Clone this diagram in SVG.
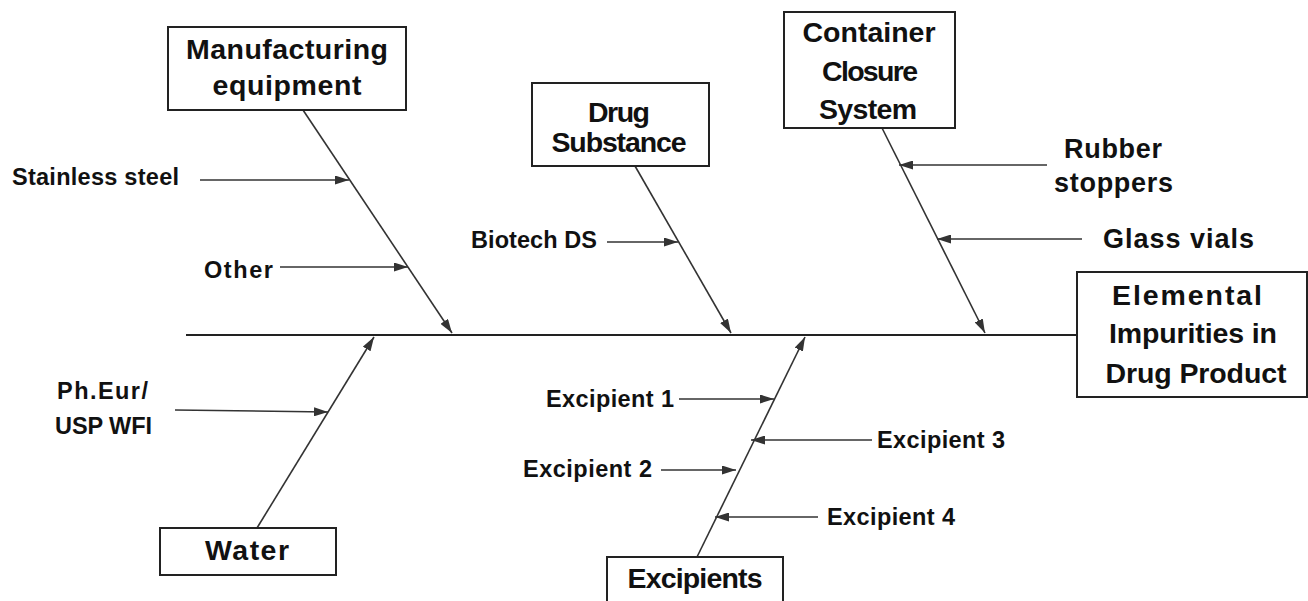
<svg xmlns="http://www.w3.org/2000/svg" width="1308" height="601" viewBox="0 0 1308 601">
<defs>
<marker id="ah" viewBox="0 0 14 9" refX="14" refY="4.5" markerWidth="14" markerHeight="9" markerUnits="userSpaceOnUse" orient="auto">
<path d="M0,0 L14,4.5 L0,9 z" fill="#333"/>
</marker>
<style>
.box{fill:#fff;stroke:#222;stroke-width:2}
.bl{font-family:"Liberation Sans",Arial,sans-serif;font-weight:bold;font-size:28.5px;fill:#111;text-anchor:middle}
.sl{font-family:"Liberation Sans",Arial,sans-serif;font-weight:bold;font-size:23.5px;fill:#111}
.al{font-family:"Liberation Sans",Arial,sans-serif;font-weight:bold;font-size:27px;fill:#111}
.br{stroke:#333;stroke-width:1.6;fill:none;marker-end:url(#ah)}
.sub{stroke:#333;stroke-width:1.5;fill:none;marker-end:url(#ah)}
.spine{stroke:#222;stroke-width:2.2;fill:none}
</style>
</defs>
<rect width="1308" height="601" fill="#fff"/>
<g id="connectors">
<line class="spine" x1="186" y1="335" x2="1077" y2="335"/>
<line class="br" x1="303" y1="110" x2="452" y2="333"/>
<line class="br" x1="635" y1="166" x2="731" y2="333"/>
<line class="br" x1="882" y1="128" x2="985" y2="333"/>
<line class="br" x1="257" y1="528" x2="374" y2="337"/>
<line class="br" x1="697" y1="557" x2="805" y2="337"/>
<line class="sub" x1="200" y1="180" x2="349" y2="180"/>
<line class="sub" x1="280" y1="267" x2="408" y2="267"/>
<line class="sub" x1="607" y1="242" x2="678" y2="242"/>
<line class="sub" x1="1047" y1="165" x2="899" y2="165"/>
<line class="sub" x1="1082" y1="239" x2="937" y2="239"/>
<line class="sub" x1="175" y1="410" x2="328" y2="412"/>
<line class="sub" x1="679" y1="399" x2="774" y2="399"/>
<line class="sub" x1="872" y1="440" x2="751" y2="440"/>
<line class="sub" x1="661" y1="470" x2="736" y2="470"/>
<line class="sub" x1="818" y1="517" x2="715" y2="517"/>
</g>
<g id="manufacturing">
<rect class="box" x="168" y="27" width="238" height="83"/>
<text class="bl" x="287" y="59" textLength="202">Manufacturing</text>
<text class="bl" x="287" y="95" textLength="149">equipment</text>
</g>
<g id="drug-substance">
<rect class="box" x="532" y="83" width="177" height="83"/>
<text class="bl" x="619" y="122" textLength="62">Drug</text>
<text class="bl" x="619" y="152" textLength="135">Substance</text>
</g>
<g id="container">
<rect class="box" x="784" y="12" width="171" height="116"/>
<text class="bl" x="869" y="42" textLength="133">Container</text>
<text class="bl" x="870" y="81" textLength="96">Closure</text>
<text class="bl" x="868" y="119" textLength="98">System</text>
</g>
<g id="effect">
<rect class="box" x="1077" y="272" width="230" height="125"/>
<text class="bl" x="1187" y="305" textLength="150">Elemental</text>
<text class="bl" x="1193" y="343" textLength="168">Impurities in</text>
<text class="bl" x="1196" y="383" textLength="181">Drug Product</text>
</g>
<g id="water">
<rect class="box" x="160" y="528" width="176" height="47"/>
<text class="bl" x="247" y="560" textLength="84">Water</text>
</g>
<g id="excipients">
<rect class="box" x="607" y="557" width="176" height="50"/>
<text class="bl" x="695" y="588" textLength="135">Excipients</text>
</g>
<g id="causes">
<text class="sl" x="12" y="185" textLength="167">Stainless steel</text>
<text class="sl" x="204" y="278" textLength="69">Other</text>
<text class="sl" x="471" y="248" textLength="126">Biotech DS</text>
<text class="al" x="1064" y="158" textLength="98">Rubber</text>
<text class="al" x="1054" y="192" textLength="119">stoppers</text>
<text class="al" x="1103" y="248" textLength="151">Glass vials</text>
<text class="sl" x="57" y="399" textLength="91">Ph.Eur/</text>
<text class="sl" x="55" y="434" textLength="97">USP WFI</text>
<text class="sl" x="546" y="407" textLength="128">Excipient 1</text>
<text class="sl" x="877" y="448" textLength="128">Excipient 3</text>
<text class="sl" x="523" y="477" textLength="129">Excipient 2</text>
<text class="sl" x="827" y="525" textLength="128">Excipient 4</text>
</g>
</svg>
